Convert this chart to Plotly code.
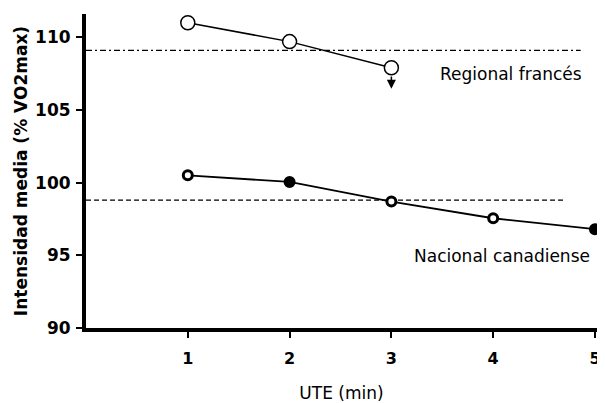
import plotly.graph_objects as go

ute = [1, 2, 3, 4, 5]
regional_x = [1, 2, 3]
regional_y = [111.0, 109.7, 107.9]
nacional_y = [100.5, 100.05, 98.7, 97.55, 96.8]
regional_ref_x = [0, 4.86]
regional_ref_y = [109.1, 109.1]
nacional_ref_x = [0, 4.7]
nacional_ref_y = [98.8, 98.8]
x_ticks = [1, 2, 3, 4, 5]
y_ticks = [90, 95, 100, 105, 110]

FONT = "DejaVu Sans"
fig = go.Figure()

fig.add_trace(go.Scatter(x=regional_ref_x, y=regional_ref_y, mode="lines",
                         line=dict(color="black", width=1.2, dash="6px,3px,2px,3px"),
                         showlegend=False, hoverinfo="skip", cliponaxis=False))
fig.add_trace(go.Scatter(x=nacional_ref_x, y=nacional_ref_y, mode="lines",
                         line=dict(color="black", width=1.2, dash="5px,3px"),
                         showlegend=False, hoverinfo="skip", cliponaxis=False))
fig.add_trace(go.Scatter(x=regional_x, y=regional_y, mode="lines+markers",
                         line=dict(color="black", width=1.5),
                         marker=dict(symbol="circle", size=14, color="white",
                                     line=dict(color="black", width=1.5)),
                         showlegend=False, cliponaxis=False))
nac_fill = ["white", "black", "white", "white", "black"]
fig.add_trace(go.Scatter(x=ute, y=nacional_y, mode="lines+markers",
                         line=dict(color="black", width=1.8),
                         marker=dict(symbol="circle", size=9, color=nac_fill,
                                     line=dict(color="black", width=3)),
                         showlegend=False, cliponaxis=False))

fig.add_annotation(x=3, y=106.45, ax=3, ay=107.4, xref="x", yref="y",
                   axref="x", ayref="y", showarrow=True, arrowhead=2,
                   arrowsize=1.2, arrowwidth=1.5, arrowcolor="black", text="")
fig.add_annotation(x=4.18, y=107.5, text="Regional francés", showarrow=False,
                   font=dict(family=FONT, size=17, color="black"))
fig.add_annotation(x=4.09, y=94.98, text="Nacional canadiense", showarrow=False,
                   font=dict(family=FONT, size=17, color="black"))

# page body has an 8px margin, so figure is sized/offset to compensate
fig.update_layout(
    width=597, height=395,
    margin=dict(l=78, r=8, t=6, b=75),
    paper_bgcolor="white", plot_bgcolor="white",
    font=dict(family=FONT, color="black"),
    xaxis=dict(range=[0, 5.02], tickvals=x_ticks, ticktext=[str(v) for v in x_ticks],
               showgrid=False, zeroline=False, showline=True, linewidth=4,
               linecolor="black", ticks="outside", ticklen=6, tickwidth=1.5,
               tickcolor="black", tickfont=dict(size=16, family=FONT, weight="bold"),
               ticklabelstandoff=7, automargin=False,
               title=dict(text="UTE (min)", font=dict(size=17, family=FONT), standoff=24)),
    yaxis=dict(range=[90, 111.6], tickvals=y_ticks, ticktext=[str(v) for v in y_ticks],
               showgrid=False, zeroline=False, showline=True, linewidth=4,
               linecolor="black", ticks="outside", ticklen=6, tickwidth=1.5,
               tickcolor="black", tickfont=dict(size=17, family=FONT, weight="bold"),
               ticklabelstandoff=2, automargin=False,
               title=dict(text="Intensidad media (% VO2max)",
                          font=dict(size=17, family=FONT, weight="bold"), standoff=4)),
)

fig.write_html("out.html")
